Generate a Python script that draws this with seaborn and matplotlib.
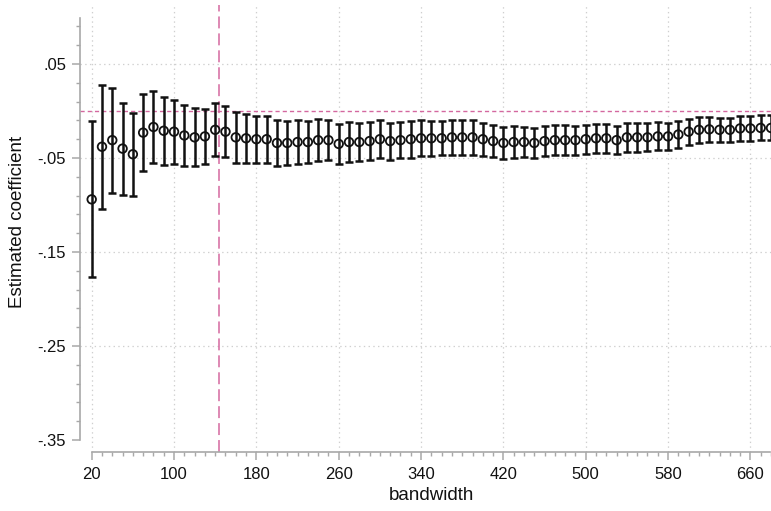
import matplotlib
matplotlib.use("Agg")
import matplotlib.pyplot as plt
import seaborn as sns
import numpy as np
import pandas as pd

# Bandwidths used in the robustness check
bandwidth = [20, 30, 40, 50, 60, 70, 80, 90, 100, 110, 120, 130, 140, 150,
             160, 170, 180, 190, 200, 210, 220, 230, 240, 250, 260, 270, 280,
             290, 300, 310, 320, 330, 340, 350, 360, 370, 380, 390, 400, 410,
             420, 430, 440, 450, 460, 470, 480, 490, 500, 510, 520, 530, 540,
             550, 560, 570, 580, 590, 600, 610, 620, 630, 640, 650, 660, 670,
             680]

# Point estimates at each bandwidth
coef = [-0.094, -0.038, -0.031, -0.040, -0.046, -0.023, -0.017, -0.021,
        -0.022, -0.026, -0.028, -0.027, -0.020, -0.022, -0.028, -0.029,
        -0.030, -0.030, -0.034, -0.034, -0.033, -0.033, -0.031, -0.031,
        -0.035, -0.033, -0.033, -0.032, -0.030, -0.032, -0.031, -0.030,
        -0.029, -0.029, -0.029, -0.028, -0.028, -0.028, -0.030, -0.032,
        -0.034, -0.033, -0.033, -0.034, -0.032, -0.031, -0.031, -0.031,
        -0.030, -0.029, -0.029, -0.031, -0.028, -0.028, -0.028, -0.027,
        -0.027, -0.025, -0.022, -0.020, -0.0195, -0.020, -0.020, -0.0185,
        -0.0185, -0.018, -0.018]

# Half-width of the 95% confidence interval
ci_half = [0.083, 0.066, 0.056, 0.049, 0.044, 0.041, 0.0385, 0.036, 0.034,
           0.032, 0.031, 0.0295, 0.028, 0.027, 0.027, 0.026, 0.025, 0.025,
           0.024, 0.0236, 0.023, 0.0226, 0.0223, 0.0216, 0.021, 0.0208,
           0.0206, 0.0204, 0.020, 0.0196, 0.0195, 0.0195, 0.019, 0.0185,
           0.018, 0.0185, 0.0185, 0.0183, 0.0175, 0.0172, 0.0174, 0.0167,
           0.0163, 0.0163, 0.0163, 0.016, 0.0158, 0.0154, 0.0155, 0.0154,
           0.0154, 0.0152, 0.0152, 0.0151, 0.015, 0.015, 0.0143, 0.014,
           0.0138, 0.0135, 0.0131, 0.0131, 0.013, 0.0132, 0.0132, 0.0133,
           0.0133]

# Axis ticks and labels
x_major = [20, 100, 180, 260, 340, 420, 500, 580, 660]
y_major = [0.05, -0.05, -0.15, -0.25, -0.35]
y_labels = [".05", "-.05", "-.15", "-.25", "-.35"]
optimal_bw = 144

df = pd.DataFrame({"bandwidth": bandwidth, "coef": coef, "ci": ci_half})

sns.set_theme(style="white")
plt.rcParams["font.family"] = ["Liberation Sans", "DejaVu Sans"]
plt.rcParams["lines.scale_dashes"] = False

W, H = 771, 511
fig = plt.figure(figsize=(W / 100, H / 100), dpi=100)
ax_left, ax_right, ax_top, ax_bottom = 80, 771, 5, 452
ax = fig.add_axes([ax_left / W, 1 - ax_bottom / H,
                   (ax_right - ax_left) / W, (ax_bottom - ax_top) / H])

xmin, xmax = 8.64, 679.4
ymin, ymax = -0.3628, 0.1128
ax.set_xlim(xmin, xmax)
ax.set_ylim(ymin, ymax)

grid_col = "#cfcfcf"
ref_col = "#d4689f"
axis_col = "#a8a8a8"
ink = "#111111"

# dotted grid at major ticks
for xv in x_major:
    ax.axvline(xv, color=grid_col, lw=0.9, ls=(0, (1, 2.4)), zorder=0)
for yv in y_major[:-1]:
    ax.axhline(yv, color=grid_col, lw=0.9, ls=(0, (1, 2.4)), zorder=0)

# reference lines
ax.axhline(0, color=ref_col, lw=1.0, ls=(0, (3.0, 2.2)), zorder=1)
ax.axvline(optimal_bw, color=ref_col, lw=1.1, ls=(0, (8.6, 3.6)), zorder=1)

# confidence intervals
ax.errorbar(df["bandwidth"], df["coef"], yerr=df["ci"], fmt="none",
            ecolor=ink, elinewidth=1.8, capsize=2.8, capthick=1.8,
            zorder=3)
# point estimates
sns.scatterplot(data=df, x="bandwidth", y="coef", ax=ax, marker="o", s=38,
                facecolor="none", edgecolor=ink, linewidth=1.3,
                zorder=4)

# axes styling
for s in ["top", "right"]:
    ax.spines[s].set_visible(False)
for s in ["left", "bottom"]:
    ax.spines[s].set_color(axis_col)
    ax.spines[s].set_linewidth(1.2)
ax.spines["left"].set_bounds(-0.35, 0.099)
ax.spines["bottom"].set_bounds(20, xmax)

ax.set_xticks(x_major)
ax.set_xticklabels([str(v) for v in x_major])
ax.set_xticks(np.arange(20, 690, 10), minor=True)
ax.set_yticks(y_major)
ax.set_yticklabels(y_labels)
ax.set_yticks(np.round(np.arange(-0.35, 0.10, 0.02), 2), minor=True)

ax.tick_params(axis="both", which="major", length=6, width=1.1,
               color=axis_col, labelsize=12, labelcolor=ink,
               direction="out", pad=4)
ax.tick_params(axis="both", which="minor", length=3, width=1.0,
               color=axis_col, direction="out")
ax.tick_params(axis="x", which="major", pad=5)
ax.tick_params(bottom=True, left=True, which="both")

ax.set_xlabel("bandwidth", fontsize=13.5, color=ink, va="center")
ax.set_ylabel("Estimated coefficient", fontsize=13.5, color=ink,
              va="center")
ax.xaxis.set_label_coords((431.7 - ax_left) / (ax_right - ax_left),
                          (ax_bottom - 495) / (ax_bottom - ax_top))
ax.yaxis.set_label_coords((18 - ax_left) / (ax_right - ax_left),
                          (ax_bottom - 222) / (ax_bottom - ax_top))

fig.savefig("out.png", dpi=100, facecolor="white")
